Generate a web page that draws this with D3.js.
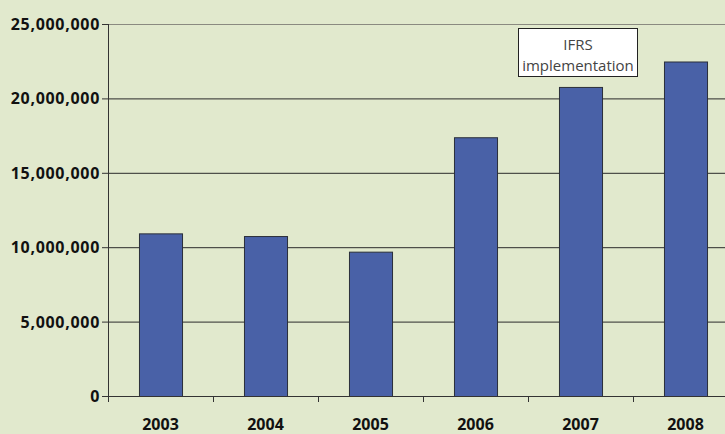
<!DOCTYPE html>
<html>
<head>
<meta charset="utf-8">
<script src="https://cdn.jsdelivr.net/npm/d3@7"></script>
<style>
  html, body { margin: 0; padding: 0; background: #e1e9cd; }
  svg { display: block; }
  .tick-label { font-family: "Open Sans", sans-serif; font-weight: bold; fill: #111; }
  .note text { font-family: "Open Sans", sans-serif; fill: #444; }
</style>
</head>
<body>
<svg id="chart" width="725" height="434"></svg>
<script>
// data
const years = ["2003", "2004", "2005", "2006", "2007", "2008"];
const values = [10930000, 10750000, 9700000, 17390000, 20770000, 22480000];
const yTicks = [0, 5000000, 10000000, 15000000, 20000000, 25000000];
const noteLines = ["IFRS", "implementation"];

const svg = d3.select("#chart");
const margin = { top: 24, left: 108 };
const plotW = 630, plotH = 372;
const g = svg.append("g").attr("transform", "translate(" + margin.left + "," + margin.top + ")");

const x = d3.scaleBand().domain(years).range([0, plotW]).paddingInner(0.59).paddingOuter(0.295);
const y = d3.scaleLinear().domain([0, 25000000]).range([plotH, 0]);
const step = x.step();
const fmt = d3.format(",");

// gridlines
g.selectAll(".grid").data(yTicks.filter(d => d > 0)).enter().append("line")
  .attr("x1", 0).attr("x2", plotW)
  .attr("y1", d => y(d) + 0.5).attr("y2", d => y(d) + 0.5)
  .attr("stroke", d => d === 25000000 ? "#8a8a80" : "#2a2a2a")
  .attr("stroke-width", 1);

// bars
g.selectAll(".bar").data(values).enter().append("rect")
  .attr("x", (d, i) => x(years[i]) + 0.5)
  .attr("y", d => y(d) + 0.5)
  .attr("width", x.bandwidth())
  .attr("height", d => plotH - y(d))
  .attr("fill", "#4961a7")
  .attr("stroke", "#2b2f3a")
  .attr("stroke-width", 1);

// y axis
g.append("line").attr("x1", 0.5).attr("x2", 0.5).attr("y1", 0).attr("y2", plotH + 6)
  .attr("stroke", "#333");
g.selectAll(".ytick").data(yTicks).enter().append("line")
  .attr("x1", -6).attr("x2", 0)
  .attr("y1", d => y(d) + 0.5).attr("y2", d => y(d) + 0.5)
  .attr("stroke", "#333");
g.selectAll(".ylab").data(yTicks).enter().append("text")
  .attr("class", "tick-label")
  .attr("x", -8).attr("y", d => y(d) + 6)
  .attr("text-anchor", "end")
  .style("font-size", "16px").style("letter-spacing", "0.7px")
  .text(d => fmt(d));

// x axis
g.append("line").attr("x1", -6).attr("x2", plotW).attr("y1", plotH + 0.5).attr("y2", plotH + 0.5)
  .attr("stroke", "#333");
g.selectAll(".xtick").data(d3.range(years.length + 1)).enter().append("line")
  .attr("x1", i => i * step + 0.5).attr("x2", i => i * step + 0.5)
  .attr("y1", plotH).attr("y2", plotH + 6)
  .attr("stroke", "#333");
g.selectAll(".xlab").data(years).enter().append("text")
  .attr("class", "tick-label")
  .attr("x", d => x(d) + x.bandwidth() / 2)
  .attr("y", plotH + 34)
  .attr("text-anchor", "middle")
  .style("font-size", "16px")
  .text(d => d);

// annotation box
const note = svg.append("g").attr("class", "note");
note.append("rect").attr("x", 518.5).attr("y", 28.5).attr("width", 119).attr("height", 48)
  .attr("fill", "#fff").attr("stroke", "#222");
note.selectAll("text").data(noteLines).enter().append("text")
  .attr("x", 578).attr("y", (d, i) => 50 + i * 21)
  .attr("text-anchor", "middle")
  .style("font-size", "15px")
  .text(d => d);
</script>
</body>
</html>
